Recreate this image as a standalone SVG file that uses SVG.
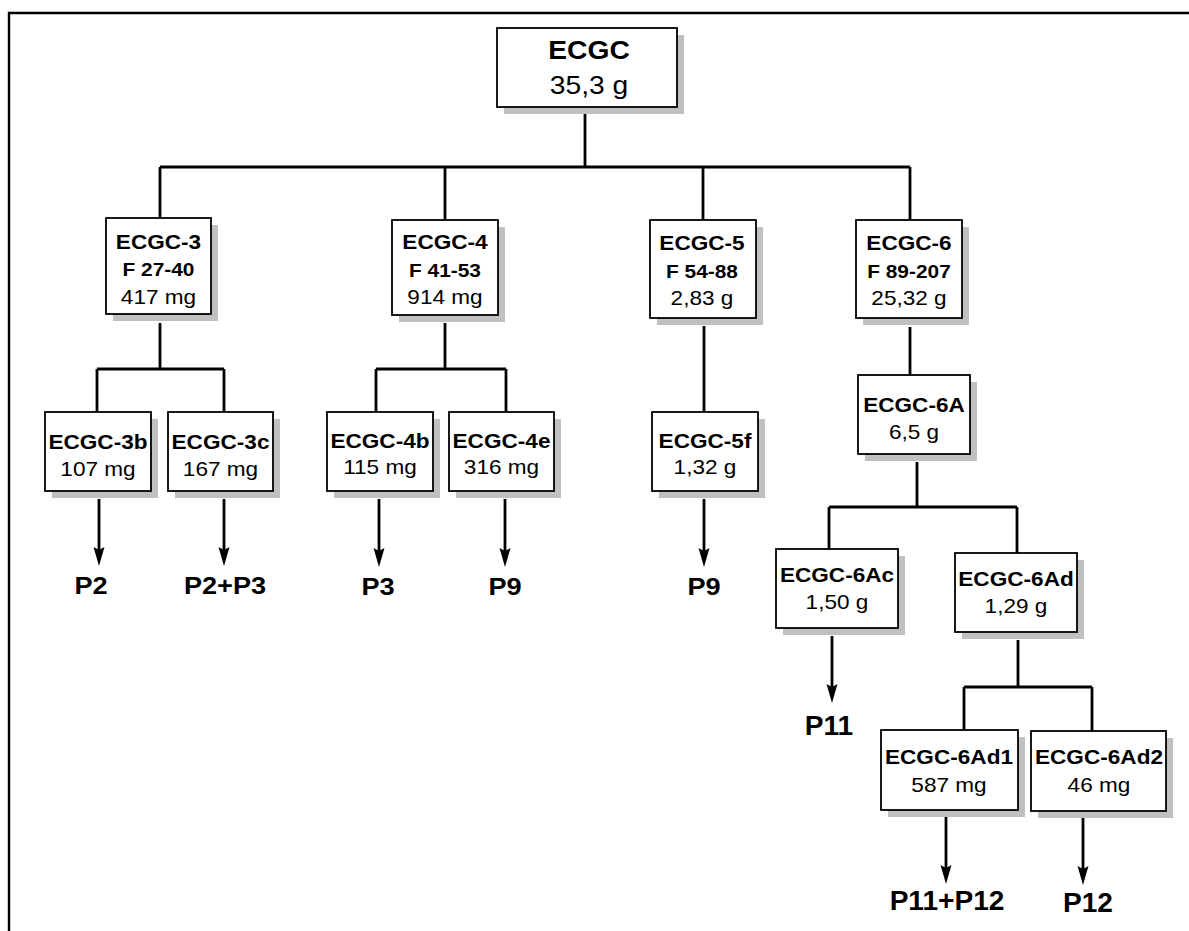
<svg xmlns="http://www.w3.org/2000/svg" width="1189" height="931" viewBox="0 0 1189 931">
  <style>
    .box { fill: #ffffff; stroke: #000000; stroke-width: 1.8; }
    .shadow { fill: #c0c0c0; stroke: none; }
    .t { font-family: "Liberation Sans", Arial, Helvetica, sans-serif; fill: #000000; text-anchor: middle; }
    .b { font-weight: bold; font-size: 20px; }
    .f { font-weight: bold; font-size: 18.5px; }
    .r { font-size: 20px; }
    .pl { font-weight: bold; font-size: 23px; }
    .pl2 { font-weight: bold; font-size: 27px; }
    .wire { fill: none; stroke: #000000; stroke-width: 2.8; stroke-linecap: butt; stroke-linejoin: miter; }
    .arrow { fill: none; stroke: #000000; stroke-width: 2.8; marker-end: url(#ah); }
  </style>
  <defs>
    <marker id="ah" markerUnits="userSpaceOnUse" markerWidth="22" markerHeight="14" viewBox="0 -7 22 14" refX="9" refY="0" orient="auto">
      <path d="M0,-5.5 L19,0 L0,5.5 L3,0 z" fill="#000000"/>
    </marker>
  </defs>

  <rect width="1189" height="931" fill="#ffffff"/>
  <!-- frame -->
  <path d="M9,931 V13 H1189" fill="none" stroke="#000000" stroke-width="2.4"/>

  <!-- connectors -->
  <g id="connectors">
    <path class="wire" d="M585,107 V167 M160,167 H910 M160,167 V218 M445,167 V220 M703,167 V220 M910,167 V220"/>
    <path class="wire" d="M160,323 V369 M97,369 H224 M97,369 V412 M224,369 V412"/>
    <path class="wire" d="M445,323 V369 M376,369 H506 M376,369 V412 M506,369 V412"/>
    <path class="wire" d="M704,326 V412"/>
    <path class="wire" d="M910,327 V375"/>
    <path class="wire" d="M917,462 V507 M829,507 H1017 M829,507 V549 M1017,507 V553"/>
    <path class="wire" d="M1018,640 V687 M964,687 H1092 M964,687 V730 M1092,687 V731"/>
    <path class="arrow" d="M99,499 V556"/>
    <path class="arrow" d="M224,499 V556"/>
    <path class="arrow" d="M379,499 V557"/>
    <path class="arrow" d="M505,499 V557"/>
    <path class="arrow" d="M704,499 V557"/>
    <path class="arrow" d="M832,636 V693"/>
    <path class="arrow" d="M946,817 V874"/>
    <path class="arrow" d="M1083,818 V875"/>
  </g>

  <!-- root -->
  <g id="n-ecgc">
    <rect class="shadow" x="504" y="35" width="180" height="79"/>
    <rect class="box" x="497" y="28" width="180" height="79"/>
    <g transform="translate(589 0) scale(1.13 1)">
      <text class="t" x="0" y="59" font-weight="bold" font-size="25">ECGC</text>
      <text class="t" x="0" y="94" font-size="25">35,3 g</text>
    </g>
  </g>

  <!-- first fractions -->
  <g id="n-ecgc-3">
    <rect class="shadow" x="113" y="225" width="105" height="96"/>
    <rect class="box" x="106" y="218" width="105" height="96"/>
    <g transform="translate(158.5 0) scale(1.13 1)">
      <text class="t b" x="0" y="249">ECGC-3</text>
      <text class="t f" x="0" y="276">F 27-40</text>
      <text class="t r" x="0" y="304">417 mg</text>
    </g>
  </g>
  <g id="n-ecgc-4">
    <rect class="shadow" x="399" y="227" width="106" height="95"/>
    <rect class="box" x="392" y="220" width="106" height="95"/>
    <g transform="translate(445 0) scale(1.13 1)">
      <text class="t b" x="0" y="249">ECGC-4</text>
      <text class="t f" x="0" y="277">F 41-53</text>
      <text class="t r" x="0" y="304">914 mg</text>
    </g>
  </g>
  <g id="n-ecgc-5">
    <rect class="shadow" x="657" y="227" width="106" height="98"/>
    <rect class="box" x="650" y="220" width="106" height="98"/>
    <g transform="translate(702 0) scale(1.13 1)">
      <text class="t b" x="0" y="250">ECGC-5</text>
      <text class="t f" x="0" y="278">F 54-88</text>
      <text class="t r" x="0" y="305">2,83 g</text>
    </g>
  </g>
  <g id="n-ecgc-6">
    <rect class="shadow" x="863" y="227" width="106" height="98"/>
    <rect class="box" x="856" y="220" width="106" height="98"/>
    <g transform="translate(909 0) scale(1.13 1)">
      <text class="t b" x="0" y="250">ECGC-6</text>
      <text class="t f" x="0" y="278">F 89-207</text>
      <text class="t r" x="0" y="305">25,32 g</text>
    </g>
  </g>

  <!-- sub-fractions -->
  <g id="n-ecgc-3b">
    <rect class="shadow" x="52" y="419" width="106" height="79"/>
    <rect class="box" x="45" y="412" width="106" height="79"/>
    <g transform="translate(98 0) scale(1.13 1)">
      <text class="t b" x="0" y="449">ECGC-3b</text>
      <text class="t r" x="0" y="476">107 mg</text>
    </g>
  </g>
  <g id="n-ecgc-3c">
    <rect class="shadow" x="175" y="419" width="105" height="79"/>
    <rect class="box" x="168" y="412" width="105" height="79"/>
    <g transform="translate(220.5 0) scale(1.13 1)">
      <text class="t b" x="0" y="449">ECGC-3c</text>
      <text class="t r" x="0" y="476">167 mg</text>
    </g>
  </g>
  <g id="n-ecgc-4b">
    <rect class="shadow" x="334" y="419" width="106" height="79"/>
    <rect class="box" x="327" y="412" width="106" height="79"/>
    <g transform="translate(380 0) scale(1.13 1)">
      <text class="t b" x="0" y="448">ECGC-4b</text>
      <text class="t r" x="0" y="474">115 mg</text>
    </g>
  </g>
  <g id="n-ecgc-4e">
    <rect class="shadow" x="456" y="419" width="105" height="79"/>
    <rect class="box" x="449" y="412" width="105" height="79"/>
    <g transform="translate(501.5 0) scale(1.13 1)">
      <text class="t b" x="0" y="448">ECGC-4e</text>
      <text class="t r" x="0" y="474">316 mg</text>
    </g>
  </g>
  <g id="n-ecgc-5f">
    <rect class="shadow" x="659" y="419" width="106" height="79"/>
    <rect class="box" x="652" y="412" width="106" height="79"/>
    <g transform="translate(705 0) scale(1.13 1)">
      <text class="t b" x="0" y="448">ECGC-5f</text>
      <text class="t r" x="0" y="474">1,32 g</text>
    </g>
  </g>
  <g id="n-ecgc-6a">
    <rect class="shadow" x="865" y="382" width="112" height="79"/>
    <rect class="box" x="858" y="375" width="112" height="79"/>
    <g transform="translate(914 0) scale(1.13 1)">
      <text class="t b" x="0" y="412">ECGC-6A</text>
      <text class="t r" x="0" y="439">6,5 g</text>
    </g>
  </g>
  <g id="n-ecgc-6ac">
    <rect class="shadow" x="783" y="556" width="122" height="79"/>
    <rect class="box" x="776" y="549" width="122" height="79"/>
    <g transform="translate(837 0) scale(1.13 1)">
      <text class="t b" x="0" y="582">ECGC-6Ac</text>
      <text class="t r" x="0" y="609">1,50 g</text>
    </g>
  </g>
  <g id="n-ecgc-6ad">
    <rect class="shadow" x="962" y="560" width="122" height="79"/>
    <rect class="box" x="955" y="553" width="122" height="79"/>
    <g transform="translate(1016 0) scale(1.13 1)">
      <text class="t b" x="0" y="586">ECGC-6Ad</text>
      <text class="t r" x="0" y="613">1,29 g</text>
    </g>
  </g>
  <g id="n-ecgc-6ad1">
    <rect class="shadow" x="888" y="737" width="137" height="80"/>
    <rect class="box" x="881" y="730" width="137" height="80"/>
    <g transform="translate(949 0) scale(1.13 1)">
      <text class="t b" x="0" y="764">ECGC-6Ad1</text>
      <text class="t r" x="0" y="792">587 mg</text>
    </g>
  </g>
  <g id="n-ecgc-6ad2">
    <rect class="shadow" x="1038" y="738" width="135" height="80"/>
    <rect class="box" x="1031" y="731" width="135" height="80"/>
    <g transform="translate(1099 0) scale(1.13 1)">
      <text class="t b" x="0" y="764">ECGC-6Ad2</text>
      <text class="t r" x="0" y="792">46 mg</text>
    </g>
  </g>

  <!-- products -->
  <g id="p-3b" transform="translate(91 594) scale(1.18 1)"><text class="t pl" x="0" y="0">P2</text></g>
  <g id="p-3c" transform="translate(225 594) scale(1.18 1)"><text class="t pl" x="0" y="0">P2+P3</text></g>
  <g id="p-4b" transform="translate(378 595) scale(1.18 1)"><text class="t pl" x="0" y="0">P3</text></g>
  <g id="p-4e" transform="translate(505 595) scale(1.18 1)"><text class="t pl" x="0" y="0">P9</text></g>
  <g id="p-5f" transform="translate(704 595) scale(1.18 1)"><text class="t pl" x="0" y="0">P9</text></g>
  <g id="p-6ac" transform="translate(829 735) scale(1.04 1)"><text class="t pl2" x="0" y="0">P11</text></g>
  <g id="p-6ad1" transform="translate(947 910) scale(1.04 1)"><text class="t pl2" x="0" y="0">P11+P12</text></g>
  <g id="p-6ad2" transform="translate(1088 912) scale(1.04 1)"><text class="t pl2" x="0" y="0">P12</text></g>
</svg>
